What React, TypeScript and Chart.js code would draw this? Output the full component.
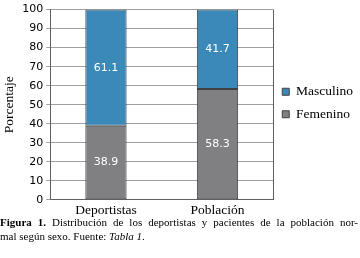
import React, { useEffect, useRef } from "react";
import { Chart, registerables } from "chart.js";

Chart.register(...registerables);

const categories = ["Deportistas", "Población"];
const femenino = [38.9, 58.3];
const masculino = [61.1, 41.7];
const yTicks = [0, 10, 20, 30, 40, 50, 60, 70, 80, 90, 100];

const SERIF = "'Liberation Serif', 'Times New Roman', serif";

const valueLabels = {
  id: "valueLabels",
  afterDatasetsDraw(chart: any) {
    const ctx = chart.ctx;
    ctx.save();
    ctx.fillStyle = "#ffffff";
    ctx.font = "11px 'DejaVu Sans'";
    ctx.textAlign = "center";
    ctx.textBaseline = "middle";
    chart.data.datasets.forEach((ds: any, i: number) => {
      const meta = chart.getDatasetMeta(i);
      meta.data.forEach((bar: any, j: number) => {
        const y = (bar.y + bar.base) / 2;
        ctx.fillText(ds.data[j].toFixed(1), bar.x, y);
      });
    });
    ctx.restore();
  },
};

const rightBorder = {
  id: "rightBorder",
  afterDraw(chart: any) {
    const { ctx, chartArea } = chart;
    ctx.save();
    ctx.strokeStyle = "#606060";
    ctx.lineWidth = 1;
    ctx.beginPath();
    ctx.moveTo(Math.round(chartArea.right) + 0.5, chartArea.top);
    ctx.lineTo(Math.round(chartArea.right) + 0.5, chartArea.bottom);
    ctx.stroke();
    ctx.restore();
  },
};

// nudge the right-hand legend a little above the vertical centre
const legendShift = {
  id: "legendShift",
  afterLayout(chart: any) {
    const lg = chart.legend;
    if (lg) {
      lg.top -= 11;
      lg.bottom -= 11;
    }
  },
};

export default function App() {
  const ref = useRef<HTMLCanvasElement>(null);
  useEffect(() => {
    document.body.style.margin = "0";
    const chart = new Chart(ref.current!, {
      type: "bar",
      data: {
        labels: categories,
        datasets: [
          {
            label: "Femenino",
            data: femenino,
            backgroundColor: "#808083",
            borderColor: "#404040",
            borderWidth: 1,
            borderSkipped: false,
            barPercentage: 0.37,
            categoryPercentage: 1,
          },
          {
            label: "Masculino",
            data: masculino,
            backgroundColor: "#3B89B8",
            borderColor: "#404040",
            borderWidth: 1,
            borderSkipped: false,
            barPercentage: 0.37,
            categoryPercentage: 1,
          },
        ],
      },
      options: {
        animation: false,
        responsive: false,
        maintainAspectRatio: false,
        layout: { padding: { top: 6, left: 1, right: -3, bottom: 0 } },
        plugins: {
          tooltip: { enabled: false },
          legend: {
            position: "right",
            reverse: true,
            labels: {
              boxWidth: 7,
              boxHeight: 7,
              padding: 9,
              color: "#000",
              font: { family: SERIF, size: 13.5 },
            },
          },
        },
        scales: {
          x: {
            stacked: true,
            grid: { display: false, drawTicks: false, tickLength: 0 },
            border: { display: true, color: "#606060" },
            ticks: {
              color: "#000",
              font: { family: SERIF, size: 13.5 },
              padding: 3,
            },
          },
          y: {
            stacked: true,
            min: 0,
            max: 100,
            afterBuildTicks: (axis: any) => {
              axis.ticks = yTicks.map((v) => ({ value: v }));
            },
            grid: { color: "#a0a0a0", tickLength: 4 },
            border: { display: true, color: "#606060" },
            ticks: {
              color: "#000",
              font: { family: "'DejaVu Sans'", size: 11 },
              padding: 3,
            },
            title: {
              display: true,
              text: "Porcentaje",
              color: "#000",
              font: { family: SERIF, size: 13.5 },
              padding: { top: 0, bottom: 2 },
            },
          },
        },
      },
      plugins: [valueLabels, rightBorder, legendShift],
    });
    return () => chart.destroy();
  }, []);

  return (
    <div style={{ position: "absolute", left: 0, top: 0, width: 360, height: 258, background: "#fff" }}>
      <canvas ref={ref} width={360} height={222} style={{ display: "block" }} />
      <div
        style={{
          fontFamily: SERIF,
          fontSize: 11,
          lineHeight: "14px",
          width: 358,
          marginTop: -7,
          color: "#000",
        }}
      >
        <div style={{ textAlign: "justify", textAlignLast: "justify" }}>
          <b>Figura 1.</b> Distribución de los deportistas y pacientes de la población nor-
        </div>
        <div>
          mal según sexo. Fuente: <i>Tabla 1</i>.
        </div>
      </div>
    </div>
  );
}
